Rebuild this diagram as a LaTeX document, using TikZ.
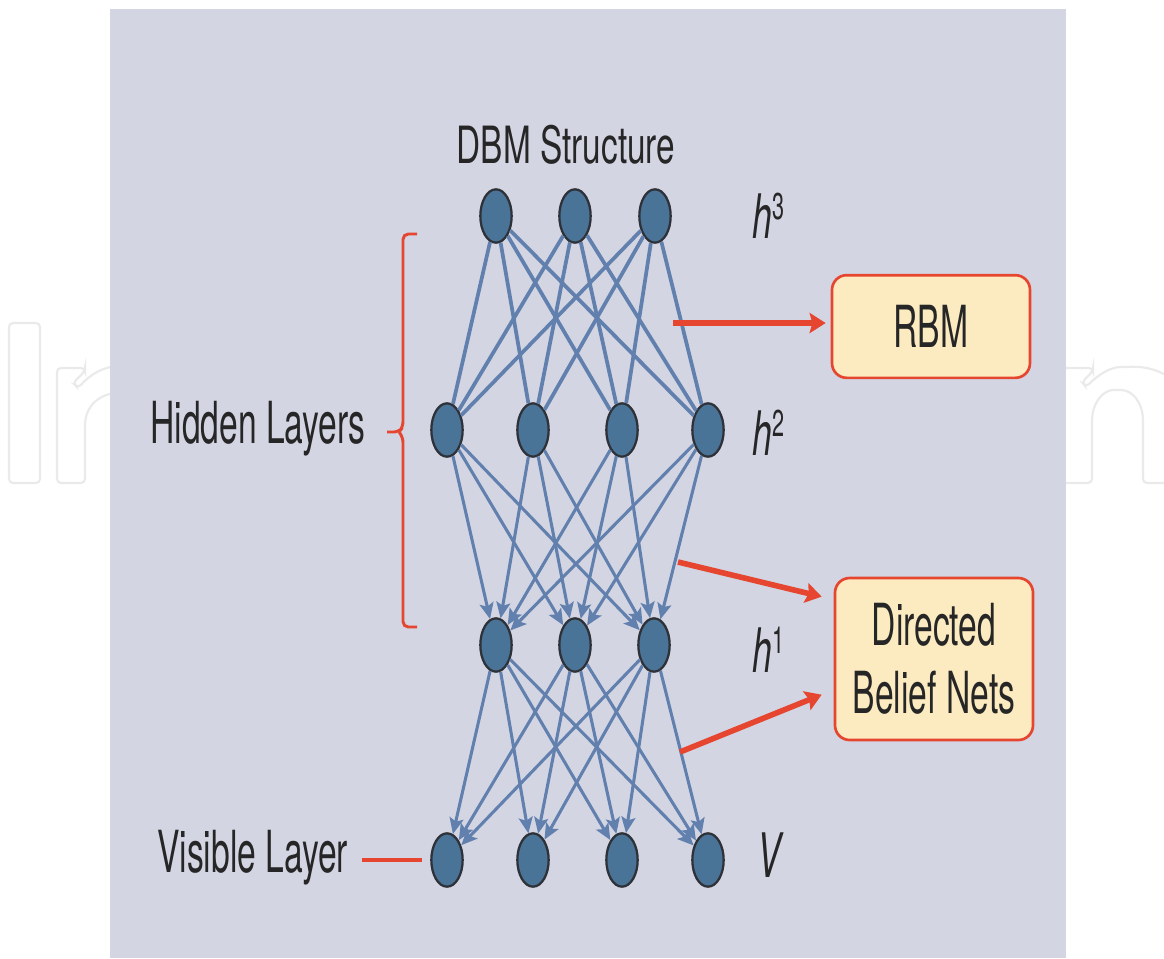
\documentclass[tikz,border=0pt]{standalone}
\usepackage{fontspec}
\usetikzlibrary{arrows.meta,shapes.geometric,calc}
% condensed Helvetica-like faces
\newfontfamily\labelfont[FakeStretch=0.58]{TeX Gyre Heros}
\newfontfamily\titlefont[FakeStretch=0.65]{TeX Gyre Heros}
\definecolor{panelbg}{HTML}{D3D5E3}
\definecolor{unitfill}{HTML}{4A7398}
\definecolor{unitrim}{HTML}{2E3238}
\definecolor{edgeblue}{HTML}{6280AE}
\definecolor{accent}{HTML}{E6462F}
\definecolor{boxfill}{HTML}{FCEBC0}
\definecolor{ink}{HTML}{262626}
\definecolor{wmgray}{HTML}{EAEAEA}
\tikzset{
  unit/.style={ellipse, draw=unitrim, line width=1.7pt, fill=unitfill,
    minimum width=23.5pt, minimum height=40pt, inner sep=0pt},
  link/.style={draw=edgeblue, line width=2.8pt},
  flow/.style={draw=edgeblue, line width=2.3pt,
    -{Stealth[length=12pt,width=10.5pt,inset=2.5pt]}},
  redarrow/.style={draw=accent, line width=4.2pt,
    -{Stealth[length=12pt,width=15pt,inset=2pt]}},
  redline/.style={draw=accent, line width=2.2pt},
  infobox/.style={draw=accent, line width=2pt, fill=boxfill,
    rounded corners=11pt, text=ink, align=center,
    font=\labelfont\fontsize{43.5}{51}\selectfont},
  sidelabel/.style={text=ink, inner sep=0pt,
    font=\labelfont\fontsize{43.5}{50}\selectfont},
  layertag/.style={text=ink, inner sep=0pt, anchor=base west,
    font=\labelfont\itshape\fontsize{46}{50}\selectfont},
  wmline/.style={draw=wmgray, line width=1.6pt, rounded corners=3pt},
}
\newcommand{\layersup}[1]{\raisebox{14pt}{\upshape\fontsize{28}{30}\selectfont #1}}
\begin{document}
\begin{tikzpicture}[x=0.75pt,y=-0.75pt]
\useasboundingbox (0,0) rectangle (1164,958);
\fill[white] (0,0) rectangle (1164,958);

% outlined lettering behind the panel
\draw[wmline] (9,323) rectangle (40,483);
\draw[wmline] (125,392) .. controls (100,392) and (85,405) .. (85,430)
  -- (85,483) -- (57,483) -- (57,368) -- (85,368) -- (85,371)
  -- (73,383) -- (78,388) .. controls (90,375) and (102,366) .. (125,365);
\draw[wmline] (1050,368) -- (1093,368) -- (1093,371) -- (1082,382)
  -- (1086,387) .. controls (1098,375) and (1110,367) .. (1125,367)
  .. controls (1150,366) and (1164,372) .. (1180,385);
\draw[wmline] (1050,483) -- (1092,483) -- (1092,425)
  .. controls (1092,402) and (1104,390) .. (1117,390)
  .. controls (1132,390) and (1143,402) .. (1143,425)
  -- (1143,483) -- (1180,483);

% panel
\fill[panelbg] (110,9) rectangle (1066,958);

% units
\foreach \x [count=\i] in {496,575,655} \node[unit] (t\i) at (\x,216) {};
\foreach \x [count=\i] in {447,533,622,708} \node[unit] (m\i) at (\x,430) {};
\foreach \x [count=\i] in {496,575,654} \node[unit] (b\i) at (\x,645) {};
\foreach \x [count=\i] in {447,533,622,708} \node[unit] (v\i) at (\x,860) {};

% undirected top pair of layers
\foreach \i in {1,2,3} \foreach \j in {1,2,3,4} \draw[link] (t\i) -- (m\j);
% directed connections downwards
\foreach \i in {1,2,3,4} \foreach \j in {1,2,3} \draw[flow] (m\i) -- (b\j);
\foreach \i in {1,2,3} \foreach \j in {1,2,3,4} \draw[flow] (b\i) -- (v\j);

% titles and layer names
\node[text=ink, anchor=base, inner sep=0pt,
  font=\titlefont\fontsize{38.5}{44}\selectfont] (title) at (566,163) {DBM Structure};
\node[sidelabel, anchor=base west] (hidlab) at (150,443) {Hidden Layers};
\node[sidelabel, anchor=base west] (vislab) at (157,872) {Visible Layer};
\node[layertag] (tag3) at (752,238) {h\layersup{3}};
\node[layertag] (tag2) at (752,455) {h\layersup{2}};
\node[layertag] (tag1) at (752,672) {h\layersup{1}};
\node[layertag] (tagv) at (757,877) {V};

% brace over the hidden layers
\draw[redline, rounded corners=4pt] (417,234) -- (403,234) -- (403,427)
  -- (399,432) -- (387,432);
\draw[redline, rounded corners=4pt] (399,432) -- (403,437) -- (403,627) -- (417,627);

% visible layer pointer
\draw[redline, line width=2.6pt, shorten <=10pt, shorten >=6pt]
  (vislab.east |- v1.west) -- (v1.west);

% explanation boxes
\node[infobox, minimum width=148.5pt, minimum height=77pt] (rbm) at (931,326.5) {RBM};
\node[infobox, minimum width=148.5pt, minimum height=121.5pt] (dbn) at (934,659)
  {Directed\\Belief Nets};

\coordinate (tailR) at (673,323);
\coordinate (tailA) at (678,562);
\coordinate (tailB) at (680,752);
\draw[redarrow] (tailR) -- ([xshift=-3.75pt,yshift=2.6pt]rbm.west);
\draw[redarrow] (tailA) -- ([xshift=-9pt,yshift=-15pt]dbn.north west);
\draw[redarrow] (tailB) -- ([xshift=-9pt,yshift=35pt]dbn.south west);
\end{tikzpicture}
\end{document}
